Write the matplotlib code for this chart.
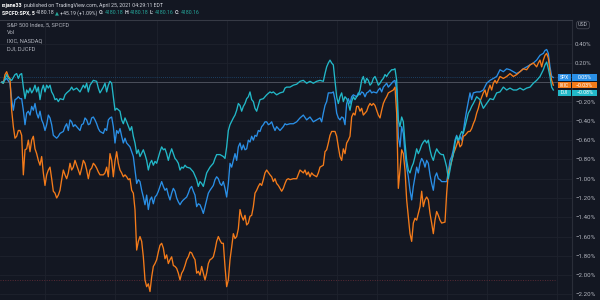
import numpy as np
import matplotlib.pyplot as plt
from matplotlib import transforms
from matplotlib.patches import Rectangle

# 5-minute bars, % change from the first bar of the window
spx_bar = [1, 2, 4, 6, 7, 8, 9, 10, 11, 12, 13, 14, 15, 16, 17, 18, 19, 20, 21, 22,
           23, 24, 25, 26, 27, 28, 29, 30, 31, 32, 34, 35, 36, 38, 39, 40, 41, 42, 43, 44,
           45, 46, 47, 48, 49, 50, 51, 52, 53, 54, 55, 56, 57, 58, 59, 60, 62, 63, 64, 65,
           66, 67, 68, 69, 70, 71, 72, 73, 74, 75, 76, 78, 79, 80, 81, 82, 83, 84, 85, 86,
           87, 88, 89, 90, 91, 92, 93, 94, 95, 96, 97, 98, 99, 100, 101, 102, 103, 104, 105, 106,
           107, 108, 109, 110, 112, 113, 114, 115, 116, 117, 118, 119, 120, 121, 122, 123, 124, 125, 126, 128,
           129, 130, 131, 132, 133, 134, 135, 136, 137, 138, 139, 140, 141, 142, 143, 144, 145, 146, 147, 148,
           149, 150, 151, 152, 153, 154, 155, 156, 157, 158, 159, 160, 161, 162, 163, 164, 165, 166, 167, 168,
           170, 171, 172, 174, 176, 178, 180, 182, 184, 186, 188, 190, 192, 193, 194, 195, 196, 197, 199, 200,
           201, 202, 203, 204, 205, 206, 207, 208, 209, 210, 211, 212, 214, 215, 216, 217, 218, 219, 220, 221,
           222, 223, 224, 226, 227, 228, 229, 230, 231, 232, 233, 234, 236, 237, 238, 239, 240, 241, 242, 243,
           244, 245, 246, 247, 248, 249, 250, 251, 252, 253, 254, 255, 256, 257, 258, 259, 260, 261, 262, 263,
           264, 265, 266, 268, 269, 270, 271, 272, 273, 274, 275, 276, 277, 278, 279, 280, 281, 282, 283, 284,
           286, 288, 290, 292, 294, 296, 298, 300, 302, 304, 306, 308, 310, 312, 314, 316, 318, 320, 322, 324,
           326, 327, 328, 329, 330, 331, 332]
spx_pct = [0.0, 0.01, 0.04, -0.01, -0.18, -0.29, -0.18, -0.17, -0.15, -0.17, -0.17, -0.29, -0.44, -0.32, -0.30, -0.34, -0.25, -0.29, -0.22, -0.32,
           -0.37, -0.30, -0.39, -0.43, -0.50, -0.44, -0.34, -0.37, -0.44, -0.55, -0.58, -0.56, -0.53, -0.51, -0.46, -0.43, -0.50, -0.39, -0.41, -0.46,
           -0.44, -0.46, -0.48, -0.50, -0.44, -0.43, -0.37, -0.39, -0.44, -0.43, -0.37, -0.36, -0.39, -0.43, -0.48, -0.51, -0.53, -0.48, -0.50, -0.39,
           -0.37, -0.36, -0.46, -0.63, -0.50, -0.53, -0.48, -0.56, -0.63, -0.58, -0.63, -0.67, -0.72, -0.77, -0.91, -1.05, -1.01, -1.03, -1.12, -1.19,
           -1.27, -1.17, -1.32, -1.22, -1.19, -1.26, -1.19, -1.17, -1.13, -1.08, -1.03, -1.08, -1.12, -1.10, -1.17, -1.22, -1.15, -1.10, -1.13, -1.20,
           -1.24, -1.27, -1.24, -1.22, -1.19, -1.15, -1.10, -1.08, -1.13, -1.17, -1.29, -1.26, -1.27, -1.31, -1.36, -1.29, -1.22, -1.15, -1.12, -1.07,
           -1.01, -0.98, -1.00, -1.05, -1.07, -1.03, -1.10, -1.19, -1.05, -0.84, -0.88, -0.81, -0.74, -0.81, -0.67, -0.63, -0.70, -0.65, -0.70, -0.69,
           -0.60, -0.62, -0.56, -0.60, -0.55, -0.56, -0.50, -0.51, -0.46, -0.44, -0.41, -0.41, -0.44, -0.43, -0.41, -0.46, -0.50, -0.46, -0.48, -0.50,
           -0.46, -0.43, -0.44, -0.43, -0.43, -0.41, -0.37, -0.34, -0.39, -0.36, -0.41, -0.39, -0.37, -0.41, -0.32, -0.24, -0.20, -0.11, -0.11, -0.10,
           -0.18, -0.32, -0.37, -0.39, -0.36, -0.37, -0.44, -0.22, -0.17, -0.22, -0.15, -0.13, -0.15, -0.11, -0.13, -0.10, -0.11, -0.15, -0.11, -0.10,
           -0.08, -0.11, -0.10, -0.11, -0.08, -0.06, -0.10, -0.05, -0.03, -0.01, -0.05, -0.03, 0.01, 0.02, -0.08, -0.56, -0.67, -0.46, -0.53, -0.74,
           -0.88, -0.98, -1.12, -1.22, -1.08, -0.98, -0.88, -0.94, -0.84, -0.79, -0.82, -0.88, -0.81, -0.84, -0.96, -1.05, -1.12, -0.98, -0.94, -1.00,
           -1.01, -1.03, -1.03, -1.03, -0.93, -0.81, -0.77, -0.70, -0.60, -0.55, -0.62, -0.56, -0.60, -0.51, -0.39, -0.29, -0.20, -0.11, -0.18, -0.11,
           -0.10, -0.10, -0.08, -0.01, 0.02, 0.04, 0.06, 0.13, 0.11, 0.14, 0.13, 0.11, 0.09, 0.11, 0.14, 0.16, 0.18, 0.20, 0.23, 0.28,
           0.30, 0.33, 0.34, 0.30, 0.16, 0.06, 0.05]

ixic_bar = [1, 2, 3, 4, 5, 6, 7, 8, 9, 10, 11, 12, 13, 14, 15, 16, 17, 18, 19, 20,
            21, 22, 23, 24, 25, 26, 27, 28, 29, 30, 31, 32, 33, 34, 35, 36, 37, 38, 39, 40,
            41, 42, 43, 44, 45, 46, 47, 48, 49, 50, 51, 52, 53, 54, 55, 56, 57, 58, 59, 60,
            62, 63, 64, 65, 66, 67, 68, 69, 70, 71, 72, 73, 74, 75, 76, 77, 78, 79, 80, 81,
            82, 83, 84, 85, 86, 87, 88, 89, 90, 91, 92, 93, 94, 95, 96, 97, 98, 99, 100, 101,
            102, 103, 104, 105, 106, 107, 108, 109, 110, 111, 112, 113, 114, 115, 116, 117, 118, 119, 120, 121,
            122, 123, 124, 125, 126, 127, 128, 129, 130, 131, 132, 133, 134, 135, 136, 137, 138, 139, 140, 141,
            142, 143, 144, 145, 146, 147, 148, 149, 150, 151, 152, 153, 154, 155, 156, 157, 158, 159, 160, 162,
            163, 164, 165, 166, 167, 168, 169, 170, 171, 172, 173, 174, 176, 178, 180, 182, 183, 184, 185, 186,
            187, 188, 190, 191, 192, 194, 195, 196, 197, 198, 199, 201, 202, 203, 204, 205, 206, 207, 208, 209,
            210, 211, 212, 213, 214, 215, 216, 217, 218, 219, 220, 221, 222, 223, 224, 225, 226, 227, 228, 229,
            230, 231, 232, 233, 234, 236, 237, 238, 239, 240, 241, 242, 243, 244, 245, 246, 247, 248, 249, 250,
            251, 252, 253, 254, 255, 256, 257, 258, 259, 260, 261, 262, 263, 264, 265, 267, 268, 269, 270, 271,
            272, 273, 274, 275, 276, 277, 278, 279, 280, 281, 282, 283, 284, 285, 286, 287, 288, 290, 291, 292,
            293, 294, 295, 296, 297, 298, 300, 302, 304, 306, 308, 310, 312, 314, 316, 318, 320, 322, 323, 324,
            325, 326, 327, 328, 329, 330, 331, 332]
ixic_pct = [0.0, -0.01, 0.08, 0.11, 0.06, 0.04, -0.29, -0.46, -0.58, -0.56, -0.50, -0.50, -0.55, -0.96, -0.70, -0.69, -0.60, -0.72, -0.60, -0.56,
            -0.69, -0.74, -0.81, -0.86, -0.77, -0.94, -1.07, -0.96, -0.91, -0.88, -1.00, -1.13, -1.15, -1.20, -1.17, -1.12, -1.01, -0.91, -0.96, -1.00,
            -0.94, -0.84, -0.91, -0.88, -0.81, -0.86, -0.91, -0.96, -0.89, -0.81, -0.84, -0.91, -1.00, -0.91, -0.89, -0.84, -0.86, -0.89, -0.93, -0.96,
            -0.96, -0.94, -0.88, -0.98, -0.74, -0.81, -0.98, -0.82, -0.72, -0.84, -0.91, -0.94, -0.98, -0.96, -0.98, -1.01, -1.00, -1.12, -1.15, -1.32,
            -1.74, -1.65, -1.60, -1.65, -1.81, -2.05, -2.12, -2.09, -2.17, -2.02, -1.91, -1.88, -1.84, -1.76, -1.69, -1.67, -1.72, -1.83, -1.79, -1.88,
            -1.84, -1.81, -1.90, -1.91, -1.93, -1.98, -2.05, -1.98, -1.95, -1.90, -1.84, -1.81, -1.76, -1.77, -1.81, -1.84, -1.98, -1.96, -2.00, -1.91,
            -1.98, -2.05, -1.98, -1.88, -1.84, -1.83, -1.81, -1.74, -1.65, -1.60, -1.64, -1.67, -1.67, -1.91, -2.12, -2.05, -1.84, -1.71, -1.57, -1.62,
            -1.60, -1.52, -1.32, -1.39, -1.43, -1.38, -1.48, -1.46, -1.39, -1.38, -1.29, -1.15, -1.12, -1.08, -1.05, -1.07, -1.01, -0.94, -0.91, -0.96,
            -0.98, -1.03, -1.00, -1.05, -1.07, -1.10, -1.13, -1.10, -1.05, -1.01, -1.00, -1.01, -1.00, -1.00, -0.91, -0.94, -0.91, -0.96, -0.93, -0.98,
            -0.94, -0.96, -0.98, -0.94, -0.88, -0.86, -0.72, -0.70, -0.63, -0.55, -0.51, -0.51, -0.56, -0.67, -0.77, -0.81, -0.69, -0.74, -0.63, -0.60,
            -0.56, -0.36, -0.32, -0.34, -0.25, -0.25, -0.30, -0.27, -0.34, -0.32, -0.30, -0.25, -0.22, -0.24, -0.22, -0.24, -0.29, -0.34, -0.37, -0.29,
            -0.22, -0.18, -0.15, -0.11, -0.10, -0.08, -0.05, -0.32, -1.10, -0.91, -0.70, -0.74, -0.91, -1.22, -1.39, -1.57, -1.65, -1.46, -1.41, -1.43,
            -1.36, -1.29, -1.13, -1.29, -1.22, -1.19, -1.22, -1.36, -1.46, -1.57, -1.43, -1.34, -1.38, -1.43, -1.46, -1.45, -1.15, -0.94, -0.88, -0.82,
            -0.74, -0.70, -0.65, -0.60, -0.67, -0.65, -0.56, -0.55, -0.53, -0.51, -0.51, -0.48, -0.43, -0.39, -0.32, -0.27, -0.20, -0.11, -0.08, -0.15,
            -0.08, -0.03, -0.08, -0.01, 0.02, -0.01, 0.06, 0.04, 0.06, 0.09, 0.06, 0.08, 0.11, 0.14, 0.13, 0.18, 0.20, 0.16, 0.20, 0.23,
            0.16, 0.23, 0.28, 0.30, 0.25, 0.11, 0.02, -0.03]

dji_bar = [1, 2, 4, 5, 7, 9, 10, 11, 12, 13, 14, 15, 16, 17, 18, 19, 20, 21, 22, 23,
           24, 25, 26, 27, 28, 29, 30, 31, 32, 33, 34, 35, 36, 38, 39, 40, 42, 43, 44, 46,
           48, 50, 51, 52, 53, 54, 56, 58, 59, 60, 61, 62, 63, 64, 65, 66, 67, 68, 69, 70,
           72, 73, 74, 75, 76, 78, 79, 80, 81, 82, 83, 84, 86, 87, 88, 89, 90, 91, 92, 93,
           94, 96, 97, 98, 99, 100, 101, 102, 103, 104, 105, 106, 107, 108, 109, 110, 111, 112, 114, 116,
           118, 119, 120, 121, 122, 123, 124, 126, 128, 129, 130, 132, 134, 135, 136, 137, 138, 140, 141, 142,
           143, 144, 145, 146, 147, 148, 149, 150, 151, 152, 153, 154, 155, 156, 158, 160, 162, 163, 164, 166,
           168, 170, 171, 172, 174, 176, 178, 180, 182, 184, 186, 188, 190, 192, 194, 195, 196, 197, 198, 199,
           200, 201, 202, 203, 204, 205, 206, 207, 208, 209, 210, 211, 212, 213, 214, 215, 216, 217, 218, 219,
           220, 221, 222, 223, 224, 225, 226, 227, 228, 229, 230, 231, 232, 233, 234, 235, 236, 237, 238, 239,
           240, 241, 242, 243, 244, 245, 246, 247, 248, 249, 250, 251, 252, 253, 254, 255, 256, 257, 258, 259,
           260, 261, 262, 263, 264, 265, 266, 267, 268, 269, 270, 271, 272, 273, 274, 275, 276, 277, 278, 279,
           280, 281, 282, 283, 284, 286, 288, 290, 292, 294, 296, 298, 300, 302, 304, 306, 308, 310, 312, 314,
           316, 318, 320, 322, 324, 326, 327, 328, 329, 330, 331, 332]
dji_pct = [0.0, -0.01, 0.08, 0.04, 0.02, 0.08, 0.09, 0.04, 0.08, 0.09, -0.05, -0.17, -0.08, -0.11, -0.06, -0.11, -0.08, -0.03, -0.10, -0.05,
           -0.18, -0.08, -0.03, -0.10, -0.03, -0.06, -0.03, -0.10, -0.13, -0.18, -0.17, -0.20, -0.17, -0.18, -0.13, -0.11, -0.08, -0.05, -0.08, -0.06,
           -0.10, -0.03, -0.06, -0.01, -0.10, -0.03, 0.02, 0.01, -0.06, -0.11, -0.08, -0.05, -0.01, -0.10, -0.03, 0.01, -0.01, -0.15, -0.29, -0.27,
           -0.30, -0.39, -0.43, -0.37, -0.41, -0.50, -0.46, -0.56, -0.63, -0.74, -0.70, -0.77, -0.70, -0.75, -0.81, -0.91, -0.84, -0.81, -0.86, -0.82,
           -0.84, -0.72, -0.67, -0.70, -0.69, -0.74, -0.81, -0.74, -0.69, -0.74, -0.79, -0.81, -0.84, -0.91, -0.88, -0.89, -0.86, -0.88, -0.89, -0.93,
           -1.01, -1.08, -1.03, -1.05, -1.08, -1.01, -0.94, -0.88, -0.84, -0.79, -0.75, -0.75, -0.77, -0.79, -0.67, -0.50, -0.44, -0.37, -0.34, -0.29,
           -0.22, -0.24, -0.30, -0.25, -0.22, -0.17, -0.15, -0.10, -0.18, -0.20, -0.27, -0.30, -0.24, -0.18, -0.17, -0.13, -0.10, -0.11, -0.10, -0.13,
           -0.11, -0.10, -0.06, -0.05, -0.05, -0.03, -0.02, 0.01, 0.02, -0.01, 0.01, -0.01, 0.01, 0.02, 0.01, 0.09, 0.16, 0.20, 0.23, 0.20,
           0.18, 0.02, -0.15, -0.22, -0.15, -0.11, -0.20, -0.15, -0.17, -0.22, -0.29, -0.20, -0.15, -0.18, -0.15, -0.13, -0.08, 0.02, 0.06, -0.01,
           0.04, 0.02, -0.03, -0.01, 0.04, 0.06, 0.02, -0.03, -0.01, 0.02, 0.04, 0.08, 0.06, 0.09, 0.11, 0.13, 0.13, 0.14, 0.02, -0.39,
           -0.46, -0.36, -0.41, -0.63, -0.81, -0.91, -0.94, -0.88, -0.84, -0.77, -0.69, -0.74, -0.70, -0.65, -0.62, -0.60, -0.63, -0.60, -0.70, -0.77,
           -0.81, -0.74, -0.69, -0.72, -0.74, -0.75, -0.75, -0.81, -0.88, -1.00, -0.91, -0.81, -0.75, -0.63, -0.56, -0.60, -0.55, -0.51, -0.53, -0.46,
           -0.39, -0.32, -0.29, -0.25, -0.22, -0.15, -0.18, -0.27, -0.22, -0.17, -0.18, -0.11, -0.10, -0.05, -0.08, -0.06, -0.08, -0.08, -0.06, -0.08,
           -0.06, -0.05, -0.01, 0.02, 0.06, 0.13, 0.18, 0.21, 0.14, 0.06, -0.05, -0.08]

names = ["SPX", "IXIC", "DJI"]
colors = ["#2a8fe6", "#f47b1a", "#22b8c8"]
time_grid = [27, 69, 94, 136, 160, 202, 226, 268, 292, 334]
pct_ticks = [-2.2, -2.0, -1.8, -1.6, -1.4, -1.2, -1.0, -0.8, -0.6, -0.4, -0.2, 0.0, 0.2, 0.4]
red_level = -2.05

bg = "#131722"
txt = "#b2b5be"
font = "Roboto"

fig = plt.figure(figsize=(6, 3), dpi=100, facecolor=bg)
ax = fig.add_axes([0, 0, 572 / 600, 280 / 300], facecolor=bg)

ax.set_xlim(0, 343.2)
ax.set_ylim(-2.258, 0.646)
ax.set_xticks(time_grid)
ax.set_yticks(pct_ticks)
ax.set_yticklabels(["" if v == 0 else f"{v:.2f}%".replace("-", "\u2212") for v in pct_ticks])
ax.yaxis.tick_right()
ax.tick_params(axis="y", length=0, pad=2.2, labelsize=4.4, labelcolor=txt)
ax.tick_params(axis="x", length=0, labelbottom=False)
for lab in ax.get_yticklabels():
    lab.set_fontfamily(font)
    lab.set_horizontalalignment("left")
ax.grid(True, color="#1e222d", lw=0.6)
ax.set_axisbelow(True)
for s in ["left", "bottom"]:
    ax.spines[s].set_visible(False)
ax.spines["right"].set_color("#2a2e39")
ax.spines["right"].set_linewidth(0.8)
ax.spines["top"].set_color("#363a45")
ax.spines["top"].set_linewidth(0.8)

ax.axhline(0, color="#4b4f5b", lw=0.7, zorder=1)
ax.plot([0, 333], [red_level, red_level], color="#5a2a35", lw=0.7, ls=(0, (1, 1.5)), zorder=1)
ax.axhline(spx_pct[-1], color="#1f4d78", lw=0.6, ls=(0, (1, 1.5)), zorder=1)

for bars, vals, c in zip([spx_bar, ixic_bar, dji_bar], [spx_pct, ixic_pct, dji_pct], colors):
    ax.plot(bars, vals, color=c, lw=0.95, zorder=3, solid_joinstyle="round")


def px(x, y):
    return x / 600, 1 - y / 300


renderer = fig.canvas.get_renderer()


def text_run(x, y, parts, size=3.8, gap=1.0):
    # lay out coloured pieces one after the other
    for s, c, w in parts:
        t = fig.text(*px(x, y), s, color=c, fontsize=size, fontweight=w,
                     family=[font, "DejaVu Sans"], va="center")
        x = t.get_window_extent(renderer).x1 + gap


green = "#26a69a"
light = "#d1d4dc"
text_run(2, 5, [("rsjane33", "white", "bold"),
                ("published on TradingView.com, April 25, 2021 04:29:11 EDT", light, "normal")],
         gap=1.4)
text_run(2, 12.7, [("SPCFD:SPX, 5", "white", "bold"), ("4180.18", light, "normal"),
                   ("\u25b2", green, "normal"), ("+45.19 (+1.09%)", light, "normal"),
                   ("O:", light, "bold"), ("4180.18", green, "normal"),
                   ("H:", light, "bold"), ("4180.18", green, "normal"),
                   ("L:", light, "bold"), ("4180.16", green, "normal"),
                   ("C:", light, "bold"), ("4180.16", green, "normal")], size=3.7, gap=0.9)

# legend lines
for y, s in zip([25, 33, 41, 49], ["S&P 500 Index, 5, SPCFD", "Vol", "IXIC, NASDAQ", "DJI, DJCFD"]):
    fig.text(*px(7, y), s, color=txt, fontsize=4.1, family=font, va="center")

fig.text(*px(578, 25), "USD", color=txt, fontsize=3.8, family=font, va="center",
         bbox=dict(boxstyle="round,pad=0.25,rounding_size=0.4", fc=bg, ec="#50535e", lw=0.5))

# last value badges on the scale
tr = transforms.blended_transform_factory(fig.transFigure, ax.transData)
last = [spx_pct[-1], ixic_pct[-1], dji_pct[-1]]
badge_y = []
h = 0.068
for v in last:
    y = v
    if badge_y and badge_y[-1] - y < h + 0.012:
        y = badge_y[-1] - h - 0.012
    badge_y.append(y)
for name, v, y, c in zip(names, last, badge_y, colors):
    ax.add_patch(Rectangle((558 / 600, y - h / 2), 13 / 600, h, transform=tr, fc=c, ec="none",
                           clip_on=False, zorder=5))
    ax.add_patch(Rectangle((572 / 600, y - h / 2), 25 / 600, h, transform=tr, fc=c, ec="none",
                           clip_on=False, zorder=5))
    ax.text(564.5 / 600, y, name, transform=tr, color="white", fontsize=3.6, family=font,
            ha="center", va="center", zorder=6, clip_on=False)
    ax.text(584.5 / 600, y, f"{v:.2f}%".replace("-", "\u2212"), transform=tr, color="white",
            fontsize=3.8, family=font, ha="center", va="center", zorder=6, clip_on=False)

fig.savefig("out.png", dpi=100, facecolor=bg)
